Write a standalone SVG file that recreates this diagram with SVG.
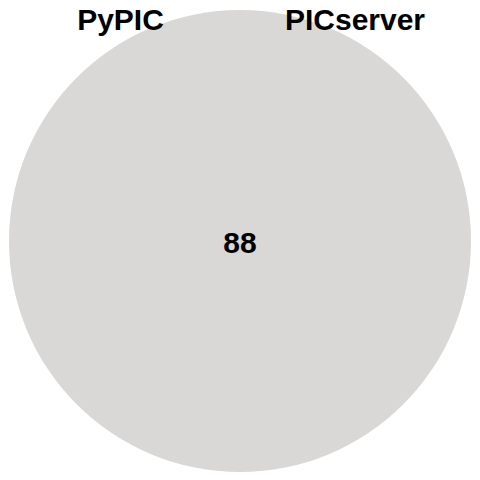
<svg xmlns="http://www.w3.org/2000/svg" width="480" height="480" viewBox="0 0 480 480">
<style>
.lbl{font-family:"Liberation Sans",Arial,sans-serif;font-weight:bold;font-size:30px;fill:#000;text-anchor:middle}
</style>
<rect width="480" height="480" fill="#fff"/>
<g id="set-venn">
<circle cx="240" cy="241" r="231" fill="#D9D8D6"/>
</g>
<g id="connectors"/>
<g id="labels">
<text class="lbl" x="120.5" y="30">PyPIC</text>
<text class="lbl" x="355" y="30">PICserver</text>
<text class="lbl" x="240" y="253">88</text>
</g>
</svg>
